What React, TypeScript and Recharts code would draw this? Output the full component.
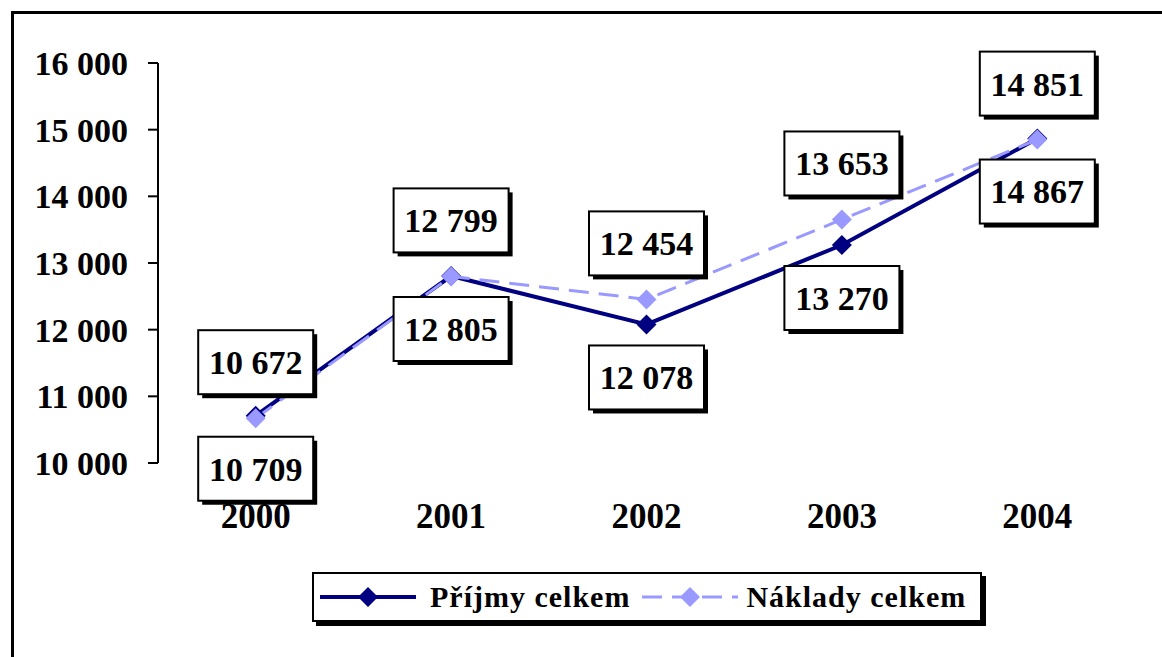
import { ComposedChart, LabelList, Line, XAxis, YAxis } from "recharts";

const years = ["2000", "2001", "2002", "2003", "2004"];
const prijmy = [10709, 12805, 12078, 13270, 14867];
const naklady = [10672, 12799, 12454, 13653, 14851];
const yTicks = [10000, 11000, 12000, 13000, 14000, 15000, 16000];
const edgeTicks = [0, 1, 2, 3, 4, 5];

const data = years.map((year, i) => ({ year, prijmy: prijmy[i], naklady: naklady[i] }));

const DARK = "#000080";
const LIGHT = "#9999ff";
const FONT = "'Liberation Serif', 'Times New Roman', serif";

const fmt = (v: number) => String(v).replace(/\B(?=(\d{3})+(?!\d))/g, " ");

function Diamond({ cx, cy, fill, r = 10 }: any) {
  if (cx == null || cy == null) return null;
  return (
    <polygon
      points={`${cx},${cy - r} ${cx + r},${cy} ${cx},${cy + r} ${cx - r},${cy}`}
      fill={fill}
    />
  );
}

// white boxed value label with a hard black shadow
function ValueBox({ x, y, value, shift }: any) {
  if (x == null || y == null) return null;
  const w = 115;
  const h = 64;
  const cy = y + shift;
  return (
    <g>
      <rect x={x - w / 2 + 4} y={cy - h / 2 + 4} width={w} height={h} fill="#000" />
      <rect x={x - w / 2} y={cy - h / 2} width={w} height={h} fill="#fff" stroke="#000" strokeWidth={2} />
      <text
        x={x}
        y={cy}
        dy="0.35em"
        textAnchor="middle"
        fontFamily={FONT}
        fontWeight={700}
        fontSize={34}
        fill="#000"
      >
        {fmt(Number(value))}
      </text>
    </g>
  );
}

function LegendSample({ color, dashed }: { color: string; dashed?: boolean }) {
  return (
    <svg width={96} height={24} style={{ display: "block" }}>
      <line
        x1={0}
        y1={12}
        x2={96}
        y2={12}
        stroke={color}
        strokeWidth={dashed ? 3 : 4}
        strokeDasharray={dashed ? "20 10" : undefined}
      />
      <Diamond cx={48} cy={12} r={10} fill={color} />
    </svg>
  );
}

export default function App() {
  return (
    <div
      style={{
        position: "absolute",
        left: 0,
        top: 0,
        width: 1162,
        height: 657,
        overflow: "hidden",
        background: "#fff",
      }}
    >
      <div
        style={{
          position: "absolute",
          left: 11,
          top: 11,
          width: 1200,
          height: 700,
          border: "3px solid #000",
        }}
      />
      <div style={{ position: "absolute", left: 0, top: 0 }}>
        <ComposedChart
          width={1162}
          height={657}
          data={data}
          margin={{ top: 63, right: 27, bottom: 193, left: 0 }}
        >
          <XAxis
            xAxisId="cat"
            dataKey="year"
            type="category"
            scale="band"
            height={1}
            interval={0}
            axisLine={false}
            tickLine={false}
            tickSize={0}
            tickMargin={40}
            tick={{ fill: "#000", fontSize: 35, fontWeight: 700, fontFamily: FONT }}
          />
          <XAxis
            xAxisId="edge"
            type="number"
            domain={[0, 5]}
            ticks={edgeTicks}
            tick={false}
            tickSize={6}
            height={0}
            allowDataOverflow
            axisLine={{ stroke: "#000", strokeWidth: 2 }}
            tickLine={{ stroke: "#000", strokeWidth: 2 }}
          />
          <YAxis
            width={158}
            domain={[10000, 16000]}
            ticks={yTicks}
            interval={0}
            tickSize={10}
            tickMargin={20}
            tickFormatter={fmt}
            axisLine={{ stroke: "#000", strokeWidth: 2 }}
            tickLine={{ stroke: "#000", strokeWidth: 2 }}
            tick={{ fill: "#000", fontSize: 34, fontWeight: 700, fontFamily: FONT }}
          />
          <Line
            xAxisId="cat"
            dataKey="prijmy"
            name="Příjmy celkem"
            stroke={DARK}
            strokeWidth={4}
            dot={(p: any) => <Diamond key={`p${p.index}`} cx={p.cx} cy={p.cy} fill={DARK} />}
            activeDot={false}
            isAnimationActive={false}
          />
          <Line
            xAxisId="cat"
            dataKey="naklady"
            name="Náklady celkem"
            stroke={LIGHT}
            strokeWidth={3}
            strokeDasharray="20 10"
            dot={(p: any) => <Diamond key={`n${p.index}`} cx={p.cx} cy={p.cy} fill={LIGHT} />}
            activeDot={false}
            isAnimationActive={false}
          />
          {/* label-only passes so the boxes sit above both lines */}
          <Line
            xAxisId="cat"
            dataKey="prijmy"
            stroke="none"
            dot={false}
            activeDot={false}
            legendType="none"
            isAnimationActive={false}
          >
            <LabelList dataKey="prijmy" content={(p: any) => <ValueBox {...p} shift={53} />} />
          </Line>
          <Line
            xAxisId="cat"
            dataKey="naklady"
            stroke="none"
            dot={false}
            activeDot={false}
            legendType="none"
            isAnimationActive={false}
          >
            <LabelList dataKey="naklady" content={(p: any) => <ValueBox {...p} shift={-56} />} />
          </Line>
        </ComposedChart>
      </div>
      <div
        style={{
          position: "absolute",
          left: 312,
          top: 572,
          width: 666,
          height: 46,
          border: "2px solid #000",
          boxShadow: "4px 4px 0 #000",
          background: "#fff",
          display: "flex",
          alignItems: "center",
          fontFamily: FONT,
          fontWeight: 700,
          fontSize: 30,
          color: "#000",
          whiteSpace: "nowrap",
        }}
      >
        <div style={{ marginLeft: 6 }}>
          <LegendSample color={DARK} />
        </div>
        <span style={{ marginLeft: 14, letterSpacing: 1 }}>Příjmy celkem</span>
        <div style={{ marginLeft: 12 }}>
          <LegendSample color={LIGHT} dashed />
        </div>
        <span style={{ marginLeft: 8, letterSpacing: 1 }}>Náklady celkem</span>
      </div>
    </div>
  );
}
